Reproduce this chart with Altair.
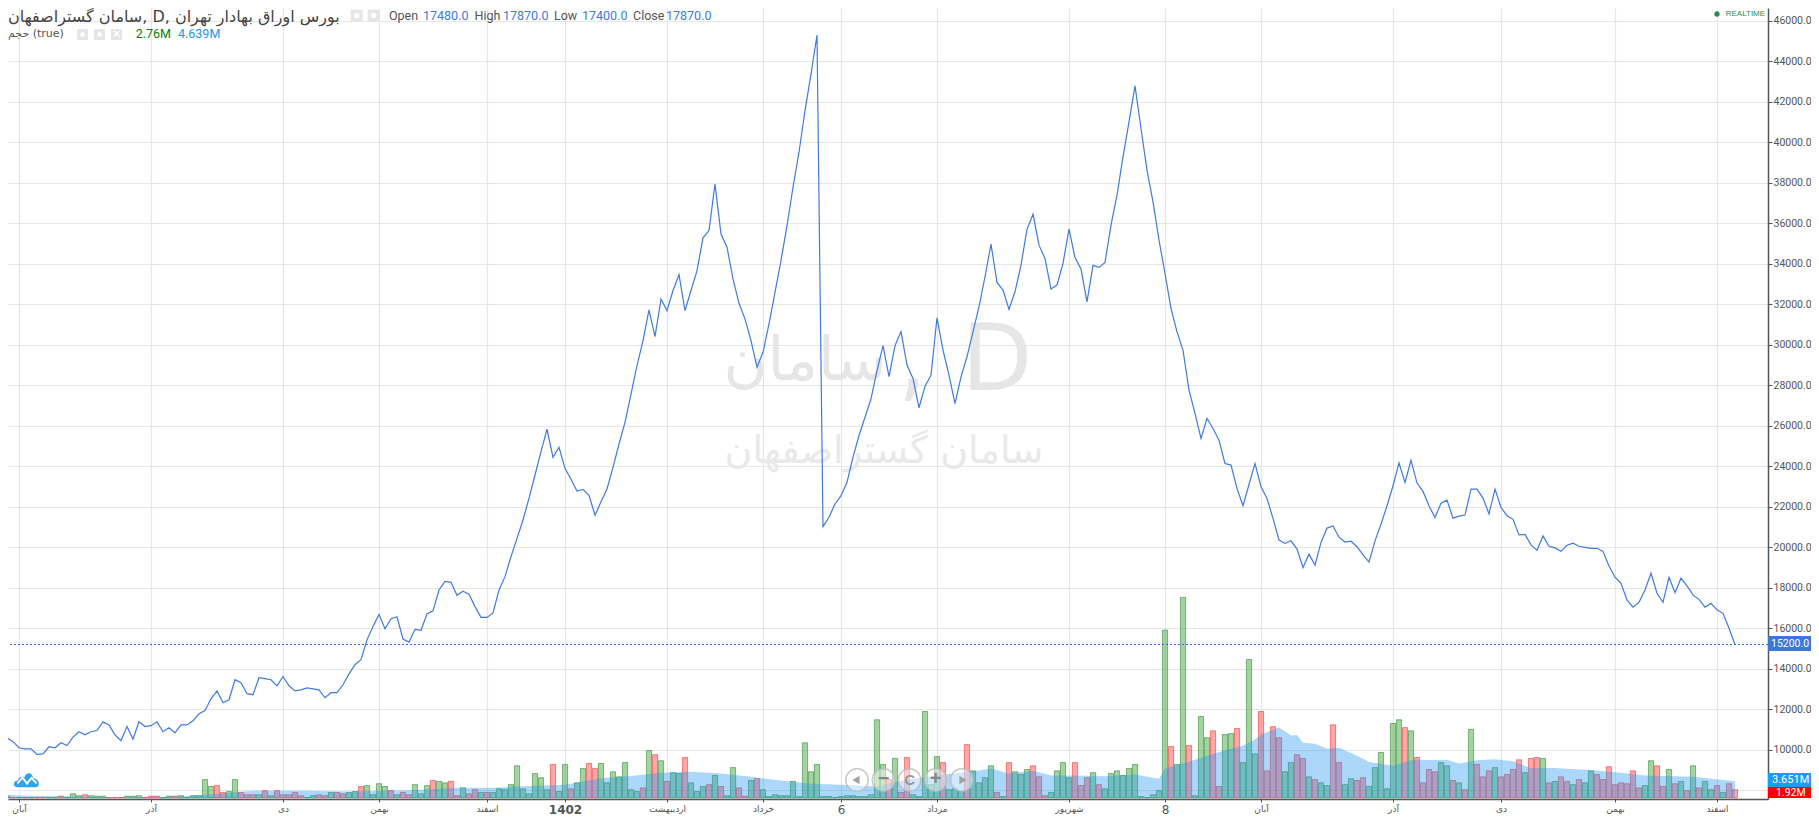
import altair as alt
import pandas as pd

prices = [
10250,10590,10400,10100,10050,10050,9770,9800,10150,10100,
10350,10210,10630,10890,10740,10890,10950,11380,11230,10740,
10450,11150,10530,11380,11150,11190,11380,10890,11090,10840,
11230,11230,11430,11780,11940,12520,12910,12320,12470,13460,
13310,12770,12720,13560,13510,13460,13160,13620,13160,12910,
12960,13060,13010,12960,12570,12820,12820,13210,13750,14200,
14450,15430,16090,16680,15980,16470,16570,15470,15320,15950,
15900,16710,16860,17890,18320,18270,17630,17830,17680,17070,
16540,16540,16760,17890,18550,19540,20440,21350,22420,23570,
24720,25840,24440,24940,23900,23360,22780,22860,22570,21580,
22250,22880,23950,25100,26170,27570,28970,30210,31720,30400,
32260,31690,32680,33470,31690,32680,33660,35280,35640,37940,
35470,34820,33250,32050,31280,30210,28890,29630,31030,32590,
34160,35890,37780,39510,41560,43370,45300,21020,21480,22140,
22550,23210,24450,25520,26420,27330,28730,29960,28430,29960,
30650,29000,28340,26890,27960,28500,31330,29740,28500,27100,
28420,29410,30640,31880,33360,34970,33080,32700,31750,32620,
33940,35700,36450,34920,34260,32750,32950,34020,35710,34310,
33740,32120,33920,33820,34070,35910,37390,39280,41010,42790,
40680,38630,37060,35170,33520,31800,30640,29740,27760,26610,
25380,26360,25870,25290,24140,24060,22910,22050,23100,24140,
22990,22410,21430,20360,20190,20320,19910,19000,19660,19120,
20240,20950,21050,20500,20260,20300,20030,19630,19270,20320,
21140,22050,23040,24170,23200,24300,23170,22760,22050,21470,
22180,22330,21440,21540,21590,22870,22870,22430,21650,22870,
21970,21560,21380,20610,20640,20120,19850,20560,20050,19970,
19800,20100,20200,20050,20000,19950,19950,19800,19080,18520,
18220,17400,17040,17280,17890,18720,17730,17280,18520,17760,
18470,18090,17650,17430,17040,17230,16910,16740,16000,15200,
]

volumes = [
.2,.4,.1,.1,.1,.1,.1,.1,.1,.1,
.4,.1,.9,.5,.7,.5,.4,.4,.1,.1,
.1,.4,.4,.5,.1,.4,.4,.1,.4,.4,
.5,.1,.5,.5,4.0,2.5,2.7,1.2,1.4,4.0,
1.2,.7,.7,.7,1.6,.5,1.6,.7,.7,1.2,
.5,.1,.5,.7,.5,1.2,1.2,.9,1.2,1.4,
2.5,2.7,.7,3.1,2.5,1.6,.7,1.2,.7,2.9,
.9,2.7,3.8,3.6,3.3,3.6,.5,2.2,.9,1.8,
1.2,1.2,1.2,2.0,1.8,2.9,7.0,2.0,.9,5.3,
4.4,1.8,7.3,1.4,7.3,2.0,3.3,6.4,7.5,6.4,
7.5,3.3,5.7,4.6,7.7,1.8,1.4,2.2,10.3,9.4,
8.1,3.6,5.5,5.3,8.8,3.3,1.4,2.5,2.9,4.9,
2.5,.5,6.6,2.2,.4,3.8,4.2,1.8,.3,.7,
.5,.5,3.6,.3,12.0,5.7,7.3,.3,.3,.1,
.3,.5,.5,.3,.3,.7,17.0,7.3,4.0,8.6,
1.2,8.8,.7,.3,18.8,2.9,9.0,7.7,1.8,2.0,
1.4,11.6,5.9,3.3,4.4,7.0,1.2,.3,7.7,5.7,
5.1,6.2,7.0,4.6,.5,1.2,5.9,7.7,4.4,7.7,
2.7,4.4,5.5,2.9,2.0,5.3,5.9,4.9,6.4,7.3,
.3,.1,.7,1.6,36.5,11.2,7.3,43.6,11.4,.5,
17.7,13.1,14.6,2.5,13.8,14.0,15.1,7.7,30.1,9.6,
18.8,5.9,15.5,13.1,5.7,7.7,9.4,8.6,4.6,4.0,
3.3,2.7,15.9,7.7,2.9,4.2,3.8,4.4,2.5,6.6,
9.9,2.0,16.2,17.0,15.3,14.6,8.8,3.3,6.2,5.7,
7.7,7.0,3.8,3.3,1.8,14.9,7.3,4.6,5.9,6.6,
4.6,5.1,6.2,8.3,5.5,8.6,8.8,8.6,3.3,3.6,
4.6,3.6,2.9,4.0,3.3,5.9,5.1,4.0,6.8,2.9,
3.3,3.1,5.9,2.2,2.7,8.1,7.0,2.5,6.2,3.1,
3.6,1.6,7.0,2.2,3.6,1.8,2.7,1.2,3.1,1.8,
]

directions = (
"ggrgrgrrgg" "rgggrgggrr" "rgggrrrggr" "ggggggrrgg" "rrrgrgrrrr"
"rggrrgrrgg" "rggggrgrrg" "ggrggrrgrr" "grgggggggg" "ggrggrggrr"
"gggggggrgr" "grggrgggrg" "rggrrgrggg" "gggggggggg" "ggggggggrg"
"rrgggggrgg" "grggggrgrg" "ggrrrggggr" "rrgrgggggg" "gggggrggrg"
"ggrrggrggg" "rrrrggrrgr" "ggrrggrrgg" "ggggrgrrrr" "ggrgrgrrrg"
"rrrrgrrgrg" "rrgrggrrrr" "rrrrggrrgr" "grgrggrgrr"
)

ma_index = [0,5,10,20,30,36,42,50,58,65,70,76,82,88,94,100,105,110,115,120,125,130,135,140,146,150,156,163,165,168,172,175,179,184,189,193,194,199,203,207,209,210,213,215,216,217,219,221,223,226,228,232,235,241,243,246,249,252,255,259,266,269,274,282,289]
ma_values = [.7,.5,.4,.1,.3,.9,1.6,1.6,1.4,1.6,1.8,2.2,2.2,2.6,2.9,4.3,4.8,5.5,5.7,5.3,4.6,3.8,3.1,2.9,2.5,3.8,4.9,6.0,6.4,5.3,5.9,4.9,4.9,4.7,5.1,4.2,6.4,8.3,10.0,11.4,12.7,13.8,15.3,13.6,13.7,12.0,11.8,10.7,10.9,9.2,7.8,7.0,8.2,8.3,7.5,8.2,8.4,8.0,6.5,6.5,6.0,5.6,4.9,4.6,3.651]

tick_index = [3,25,47,63,81,94,111,127,140,156,178,194,210,232,250,269,286]
tick_names = ["آبان","آذر","دی","بهمن","اسفند","1402","اردیبهشت","خرداد","6","مرداد","شهریور","8","آبان","آذر","دی","بهمن","اسفند"]
price_ticks = list(range(8000, 46001, 2000))

FONT = "Roboto, Liberation Sans, sans-serif"
FA = "DejaVu Sans, Noto Sans, sans-serif"

n = len(prices)
bars = pd.DataFrame({"i": list(range(n)), "close": prices, "vol": volumes, "dir": list(directions)})
ma = pd.DataFrame({"i": ma_index, "ma": ma_values})
one = alt.Data(values=[{"k": 0}])

XDOM = [7 / 6, 1767 / 6]
PDOM = [7570, 46632]
VDOM = [-0.22, 171.74]

xaxis = alt.Axis(
    values=tick_index, title=None, grid=True, gridColor="#e6e6e6", gridWidth=1.2,
    labelExpr="[" + ",".join('"%s"' % s for s in tick_names) + "][indexof([" + ",".join(map(str, tick_index)) + "],datum.value)]",
    labelFont=FA, labelFontSize=alt.condition("datum.value==94||datum.value==140||datum.value==194", alt.value(12), alt.value(9)),
    labelFontWeight=alt.condition("datum.value==94", alt.value("bold"), alt.value("normal")),
    labelColor="#555", labelOverlap=False, labelFlush=False, labelPadding=2,
    domainColor="#555", domainWidth=1.5, tickColor="#555", tickSize=3,
)
XS = alt.Scale(domain=XDOM, nice=False, zero=False, padding=0)
X = alt.X("i:Q", scale=XS, axis=xaxis)

yaxis = alt.Axis(
    orient="right", values=price_ticks, format=".1f", title=None, grid=True, gridColor="#e6e6e6", gridWidth=1.2,
    labelFont="Roboto", labelFontSize=10.5, labelColor="#555", labelOverlap=False, labelPadding=1,
    domainColor="#555", domainWidth=1.5, tickColor="#555", tickSize=4,
)
Yp = alt.Y("close:Q", scale=alt.Scale(domain=PDOM, nice=False, zero=False), axis=yaxis)
Ypn = alt.Scale(domain=PDOM, nice=False, zero=False)
Vs = alt.Scale(domain=VDOM, nice=False, zero=False)


def T(text, x, y, size, color, font=FONT, align="left", weight="normal"):
    return alt.Chart(one).mark_text(text=text, align=align, baseline="middle", fontSize=size, color=color,
                                    font=font, fontWeight=weight).encode(x=alt.value(x - 8), y=alt.value(y - 8))


def S(x, y, size, color, shape="square", filled=True, opacity=1.0, stroke=None, sw=1):
    kw = dict(shape=shape, filled=filled, size=size, opacity=opacity)
    if filled:
        kw["color"] = color
    else:
        kw["color"] = stroke or color
        kw["strokeWidth"] = sw
    return alt.Chart(one).mark_point(**kw).encode(x=alt.value(x - 8), y=alt.value(y - 8))


def R(x1, x2, y1, y2, color):
    return alt.Chart(one).mark_rect(color=color).encode(
        x=alt.value(x1 - 8), x2=alt.value(x2 - 8), y=alt.value(y1 - 8), y2=alt.value(y2 - 8))


line = alt.Chart(bars).mark_line(color="#3f7be0", strokeWidth=1.2, clip=True).encode(x=X, y=Yp)

vol_bars = alt.Chart(bars).mark_bar(size=5.2, fillOpacity=0.5, strokeOpacity=0.6, strokeWidth=1, clip=True).encode(
    x=X,
    y=alt.Y("vol:Q", scale=Vs, axis=None),
    color=alt.Color("dir:N", scale=alt.Scale(domain=["g", "r"], range=["#4ca741", "#ff4d4d"]), legend=None),
    stroke=alt.Stroke("dir:N", scale=alt.Scale(domain=["g", "r"], range=["#2f8f3a", "#f03c3c"]), legend=None),
)
vol_ma = alt.Chart(ma).mark_area(color="#2196f3", opacity=0.38, clip=True).encode(
    x=X, y=alt.Y("ma:Q", scale=Vs, axis=None))

last_rule = alt.Chart(alt.Data(values=[{"p": 15200}])).mark_rule(color="#2f6fd0", strokeDash=[2, 2], strokeWidth=1).encode(
    y=alt.Y("p:Q", scale=Ypn, axis=None))

CLOUD = "M-0.8,0.6 C-1.15,0.6 -1.1,0.05 -0.7,0.08 C-0.7,-0.2 -0.35,-0.3 -0.2,-0.15 C-0.1,-0.62 0.45,-0.62 0.47,-0.1 C0.95,-0.15 1.1,0.6 0.7,0.6 Z"
ZIG = "M-0.75,0.3 L-0.35,-0.15 L0,0.32 L0.35,-0.12 L0.75,0.3"

layers = [
    # watermark
    T("سامان", 805, 362, 60, "#e6e6e6", font=FA, align="center"),
    T(",", 912, 362, 92, "#e6e6e6", font=FA, align="center"),
    T("D", 997, 362, 92, "#e6e6e6", font=FA, align="center"),
    T("سامان گستراصفهان", 884, 452, 38, "#e9e9e9", font=FA, align="center"),
    vol_bars,
    vol_ma,
    line,
    last_rule,
    # logo
    S(27, 779.5, 650, "#2ea3ee", shape=CLOUD),
    alt.Chart(one).mark_point(shape=ZIG, size=650, filled=False, color="white", strokeWidth=2, opacity=1).encode(
        x=alt.value(19), y=alt.value(771.5)),
    # nav buttons
    S(857, 780, 500, "#ffffff", shape="circle", opacity=0.45),
    S(883.5, 780, 500, "#ffffff", shape="circle", opacity=0.45),
    S(909.6, 780, 500, "#ffffff", shape="circle", opacity=0.45),
    S(935.7, 780, 500, "#ffffff", shape="circle", opacity=0.45),
    S(961.8, 780, 500, "#ffffff", shape="circle", opacity=0.45),
    S(857, 780, 500, "#bbb", shape="circle", filled=False, stroke="#bbb", sw=1.5, opacity=0.8),
    S(883.5, 780, 500, "#bbb", shape="circle", filled=False, stroke="#bbb", sw=1.5, opacity=0.8),
    S(909.6, 780, 500, "#bbb", shape="circle", filled=False, stroke="#bbb", sw=1.5, opacity=0.8),
    S(935.7, 780, 500, "#bbb", shape="circle", filled=False, stroke="#bbb", sw=1.5, opacity=0.8),
    S(961.8, 780, 500, "#bbb", shape="circle", filled=False, stroke="#bbb", sw=1.5, opacity=0.8),
    S(856, 780, 70, "#999", shape="triangle-left", opacity=0.9),
    S(963, 780, 70, "#999", shape="triangle-right", opacity=0.9),
    T("−", 883.5, 779, 20, "#888", font="Liberation Sans", align="center", weight="bold"),
    T("C", 909.6, 780, 15, "#999", font="Liberation Sans", align="center", weight="bold"),
    T("+", 935.7, 779, 20, "#888", font="Liberation Sans", align="center", weight="bold"),
    # header row 1
    T("سامان گستراصفهان, D, بورس اوراق بهادار تهران", 8, 17, 16, "#444", font=FA),
    S(356.7, 15.5, 144, "#e6e6e6"),
    S(373.7, 15.5, 144, "#e6e6e6"),
    S(356.7, 15.5, 30, "#ffffff", shape="circle"),
    S(373.7, 15.5, 30, "#ffffff", shape="circle"),
    T("Open", 389, 15.5, 12.5, "#555"),
    T("17480.0", 423, 15.5, 12.5, "#3f7be0"),
    T("High", 474.5, 15.5, 12.5, "#555"),
    T("17870.0", 503, 15.5, 12.5, "#3f7be0"),
    T("Low", 554, 15.5, 12.5, "#555"),
    T("17400.0", 582, 15.5, 12.5, "#3f7be0"),
    T("Close", 633, 15.5, 12.5, "#555"),
    T("17870.0", 666, 15.5, 12.5, "#3f7be0"),
    # header row 2
    T("حجم (true)", 8, 34, 11, "#555", font=FA),
    S(82.5, 34.5, 121, "#e6e6e6"),
    S(99.5, 34.5, 121, "#e6e6e6"),
    S(116.5, 34.5, 121, "#e6e6e6"),
    S(82.5, 34.5, 20, "#ffffff", shape="circle"),
    S(99.5, 34.5, 20, "#ffffff", shape="circle"),
    T("×", 116.5, 34, 13, "#ffffff", font="Liberation Sans", align="center", weight="bold"),
    T("2.76M", 135.7, 34, 12.5, "#0a7d0a"),
    T("4.639M", 178, 34, 12.5, "#2196f3"),
    # realtime
    S(1717, 14, 28, "#2e8b57", shape="circle"),
    T("REALTIME", 1725.7, 14, 8, "#2e8b57", font="Liberation Sans"),
    # last value tags
    R(1768, 1811, 636, 651, "#3d78d8"),
    T("15200.0", 1771, 643.5, 10.5, "#ffffff"),
    R(1768, 1811, 786, 798, "#ff0000"),
    T("1.92M", 1776, 792.5, 10.5, "#ffffff"),
    R(1768, 1811, 773, 787, "#1e9bf5"),
    T("3.651M", 1772, 780, 11, "#ffffff"),
]

chart = alt.layer(*layers).resolve_scale(y="independent").properties(
    width=1760, height=791, background="white",
    padding={"left": 0, "top": 0, "right": 43, "bottom": 18},
    autosize=alt.AutoSizeParams(type="none"),
).configure_view(stroke=None)

chart.save("out.html", embed_options={"renderer": "svg", "actions": False})
